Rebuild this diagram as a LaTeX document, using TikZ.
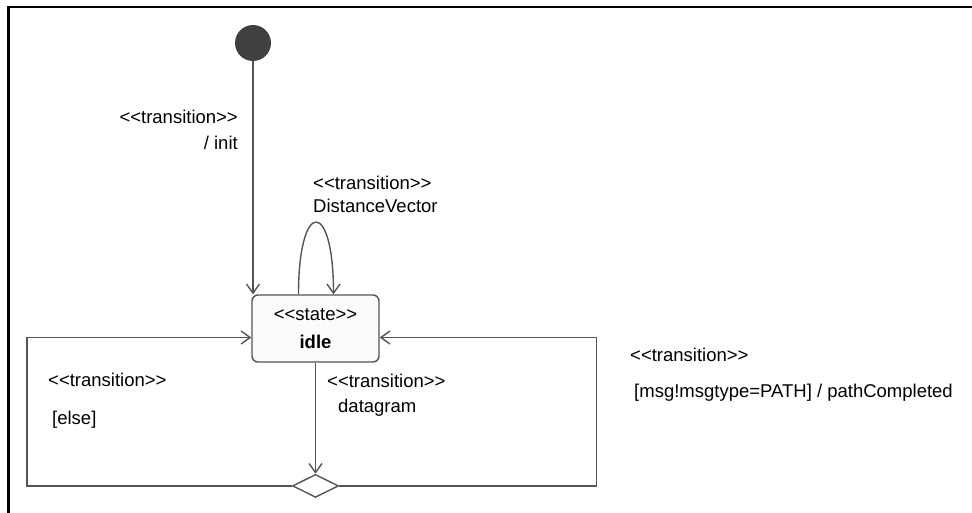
\documentclass[tikz,border=0pt]{standalone}
\usepackage{fontspec}
\newfontfamily\umlfont{Liberation Sans}
\usepackage{xcolor}
\usepackage{tikz}
\usetikzlibrary{positioning, shapes.geometric, arrows.meta}
\definecolor{umlline}{HTML}{555555}
\definecolor{umldot}{HTML}{404040}
\definecolor{umlfill}{HTML}{FBFBFB}

\begin{document}
\begin{tikzpicture}[
      x=1pt, y=-1pt,
      every node/.style={font=\umlfont\fontsize{18.5}{22}\selectfont},
      state/.style={draw=umlline, fill=umlfill, rounded corners=6pt,
                    minimum width=127pt, minimum height=67pt,
                    line width=1.4pt, align=center},
      initial/.style={circle, fill=umldot, minimum size=36pt, inner sep=0pt},
      choice/.style={diamond, draw=umlline, fill=white, minimum width=46pt,
                     minimum height=23pt, inner sep=0pt, line width=1.4pt},
      arr/.style={-{Straight Barb[length=9pt, width=13pt]}, draw=umlline,
                  line width=1.4pt},
      lbl/.style={inner sep=0pt, align=left},
    ]
    \useasboundingbox (0,0) rectangle (972,513);

    % ── frame ──
    \draw[line width=2.2pt] (8.5,513) -- (8.5,7) -- (972,7);

    % ── states ──
    \node[initial] (start) at (253,43) {};
    \node[state] (idle) at (315.5,328.5) {<<state>>\\[6pt]\textbf{idle}};
    \node[choice, below=111pt of idle] (dec) {};

    % ── transitions ──
    \draw[arr] (start) -- (start |- idle.north);
    \draw[arr] ([xshift=-17pt]idle.north) .. controls +(0,-96) and +(0,-96)
          .. ([xshift=18pt]idle.north);
    \draw[arr] (idle) -- (dec);
    \draw[arr] (dec.west) -- ++(-265,0) |- ([yshift=-9pt]idle.west);
    \draw[arr] (dec.east) -- ++(257,0) |- ([yshift=-9pt]idle.east);

    % ── labels ──
    \node[lbl, anchor=east, align=right] (linit) at (238,130)
          {<<transition>>\\[4pt]/ init};
    \node[lbl, anchor=west] (lloop) at (313,194.5)
          {<<transition>>\\[1pt]DistanceVector};
    \node[lbl, anchor=west] (lelse) at (48,401)
          {<<transition>>\\[16pt]\hspace*{4pt}[else]};
    \node[lbl, anchor=west] (ldata) at (327,395.5)
          {<<transition>>\\[3pt]\hspace*{11pt}datagram};
    \node[lbl, anchor=west] (lpath) at (630,375)
          {<<transition>>\\[14pt]\hspace*{4pt}[msg!msgtype=PATH] / pathCompleted};
  \end{tikzpicture}
\end{document}
